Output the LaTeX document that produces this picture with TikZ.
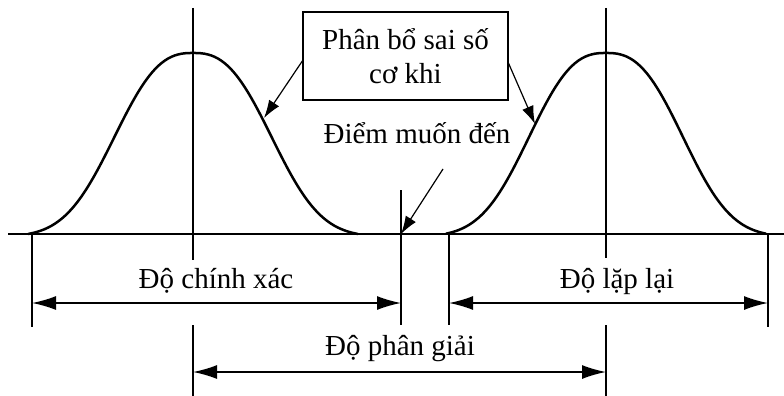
\documentclass[tikz,border=0pt]{standalone}
\usepackage{fontspec}
\setmainfont{Liberation Serif}
\usetikzlibrary{arrows.meta}
\begin{document}
\begin{tikzpicture}[x=1pt,y=-1pt,
  curve/.style={line width=2.5pt},
  axisline/.style={line width=1.4pt},
  dimarrow/.style={line width=1.5pt,{Latex[length=24pt,width=14pt]}-{Latex[length=24pt,width=14pt]}},
  leadarrow/.style={line width=1.2pt,-{Latex[length=18pt,width=12pt]}},
  lbl/.style={font=\fontsize{29}{34}\selectfont, inner sep=0pt, anchor=base},
]
\useasboundingbox (0,0) rectangle (784,396);
\pgfmathsetmacro{\cc}{exp(-((165/95)^2.6))}
% axis
\coordinate (axL) at (8,234);
\coordinate (axR) at (784,234);
\draw[axisline] (axL) -- (axR);
% curves
\draw[curve] plot[domain=-165:165, samples=100, smooth]
  ({193+\x},{234-181*(exp(-((abs(\x)/95)^2.6))-\cc)/(1-\cc)});
\draw[curve] plot[domain=-160:160, samples=100, smooth]
  ({606+\x},{234-181*(exp(-((abs(\x)/93)^2.6))-\cc)/(1-\cc)});
% vertical lines
\coordinate (c1t) at (193,8);   \coordinate (c1b) at (193,260);
\coordinate (c1u) at (193,325); \coordinate (c1d) at (193,396);
\coordinate (c2t) at (606,8);   \coordinate (c2b) at (606,258);
\coordinate (c2u) at (606,325); \coordinate (c2d) at (606,396);
\coordinate (v1t) at (32,234);  \coordinate (v1b) at (32,327);
\coordinate (v2t) at (401,190); \coordinate (v2b) at (401,325);
\coordinate (v3t) at (449,234); \coordinate (v3b) at (449,325);
\coordinate (v4t) at (768,234); \coordinate (v4b) at (768,327);
\draw[axisline] (c1t) -- (c1b) (c1u) -- (c1d) (c2t) -- (c2b) (c2u) -- (c2d);
\draw[axisline] (v1t) -- (v1b) (v2t) -- (v2b) (v3t) -- (v3b) (v4t) -- (v4b);
% dimension arrows
\coordinate (a1l) at (32,303);  \coordinate (a1r) at (401,303);
\coordinate (a2l) at (449,303); \coordinate (a2r) at (768,303);
\coordinate (a3l) at (193,372); \coordinate (a3r) at (606,372);
\draw[dimarrow] (a1l) -- (a1r);
\draw[dimarrow] (a2l) -- (a2r);
\draw[dimarrow] (a3l) -- (a3r);
% labels
\node[lbl] (chinhxac) at (216,288) {Độ chính xác};
\node[lbl] (laplai) at (617,288) {Độ lặp lại};
\node[lbl] (phangiai) at (400,355) {Độ phân giải};
\node[lbl] (diem) at (417,143) {Điểm muốn đến};
% box
\node[draw, line width=1.4pt, minimum width=205pt, minimum height=88pt, align=center,
  font=\fontsize{29}{34}\selectfont, inner sep=0pt] (box) at (405.5,56) {Phân bổ sai số\\cơ khi};
\coordinate (b1) at (303,60);  \coordinate (t1) at (264,118);
\coordinate (b2) at (508,62);  \coordinate (t2) at (535,124);
\coordinate (d1) at (443,169); \coordinate (t3) at (401,234);
\draw[leadarrow] (b1) -- (t1);
\draw[leadarrow] (b2) -- (t2);
\draw[leadarrow] (d1) -- (t3);
\end{tikzpicture}
\end{document}
